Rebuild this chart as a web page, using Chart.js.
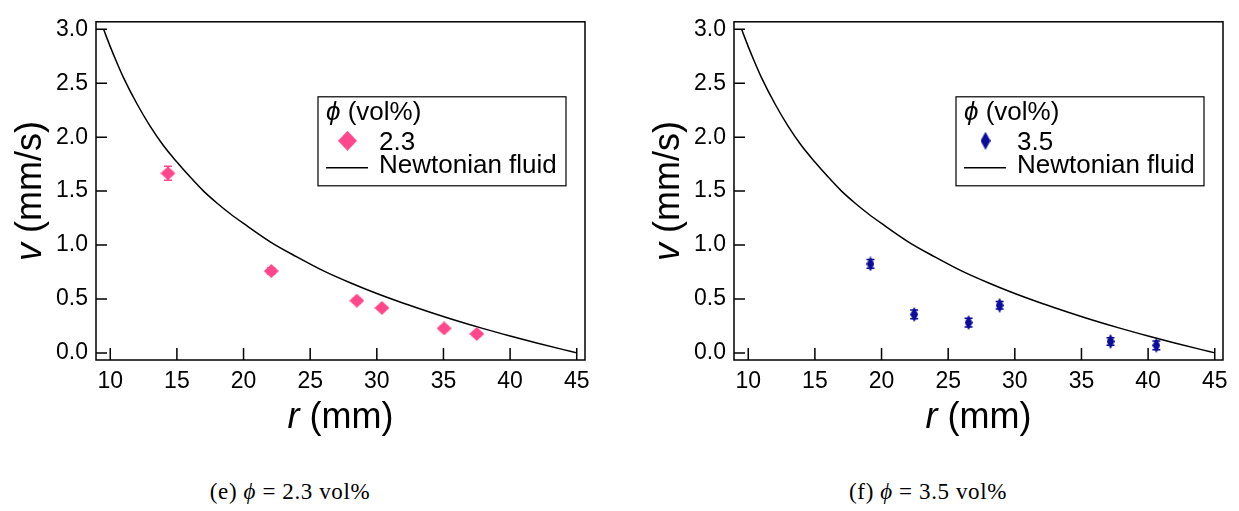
<!DOCTYPE html>
<html>
<head>
<meta charset="utf-8">
<script src="https://cdn.jsdelivr.net/npm/chart.js@4.4.0/dist/chart.umd.min.js"></script>
<style>
  body { margin: 0; background: #fff; width: 1239px; height: 511px; overflow: hidden; position: relative; }
  .panel { position: absolute; top: 0; width: 620px; height: 450px; }
  .cap { position: absolute; top: 479px; transform: translateX(-50%); white-space: nowrap;
         font-family: "Liberation Serif", "DejaVu Serif", serif; font-size: 23px; line-height: 26px;
         letter-spacing: 0.6px; color: #000; }
  .cap i { font-style: italic; }
</style>
</head>
<body>
<div class="panel" style="left:0"><canvas id="chartE" width="620" height="450"></canvas></div>
<div class="panel" style="left:638px"><canvas id="chartF" width="620" height="450"></canvas></div>
<div class="cap" style="left:290px">(e) <i>ϕ</i> = 2.3 vol%</div>
<div class="cap" style="left:928px">(f) <i>ϕ</i> = 3.5 vol%</div>

<script>
// Newtonian fluid reference curve
const newtonR = [9.5, 10, 10.5, 11, 12, 13, 14, 15, 16, 17, 18, 19, 20, 22, 24, 26, 28, 30, 32, 34, 36, 38, 40, 42, 44, 45]
const newtonV = [3.0, 2.84, 2.69, 2.55, 2.31, 2.10, 1.92, 1.77, 1.63, 1.50, 1.39, 1.29, 1.20, 1.03, 0.89, 0.76, 0.65, 0.55, 0.46, 0.377, 0.298, 0.225, 0.157, 0.092, 0.03, 0]

// phi = 2.3 vol%
const rE = [14.33, 22.08, 28.5, 30.38, 35.05, 37.5]
const vE = [1.665, 0.759, 0.484, 0.417, 0.227, 0.176]
const errE = [0.065, 0.03, 0.02, 0.02, 0.02, 0.02]

// phi = 3.5 vol%
const rF = [19.17, 22.45, 26.53, 28.86, 37.18, 40.62]
const vF = [0.825, 0.357, 0.281, 0.441, 0.106, 0.07]
const errF = [0.04, 0.04, 0.04, 0.035, 0.035, 0.04]

const xMin = 8.93, xMax = 45.62, xStep = 5
const yMin = -0.066, yMax = 3.07, yStep = 0.5

const SANS = '"Liberation Sans", Arial, Helvetica, sans-serif'
const PINK = 'rgb(255, 72, 140)'
const NAVY = 'rgb(12, 12, 156)'

function makeDiamond(w, h, color) {
  const c = document.createElement('canvas')
  c.width = w
  c.height = h
  const ctx = c.getContext('2d')
  ctx.fillStyle = color
  ctx.beginPath()
  ctx.moveTo(w / 2, 0)
  ctx.lineTo(w, h / 2)
  ctx.lineTo(w / 2, h)
  ctx.lineTo(0, h / 2)
  ctx.closePath()
  ctx.fill()
  return c
}

const framePlugin = {
  id: 'frame',
  beforeDatasetsDraw(chart) {
    // error bars under the markers
    const ctx = chart.ctx
    const xs = chart.scales.x, ys = chart.scales.y
    chart.data.datasets.forEach(ds => {
      if (!ds.errors) return
      ctx.save()
      ctx.strokeStyle = ds.errColor
      ctx.lineWidth = 1.5
      ds.data.forEach((p, i) => {
        const px = xs.getPixelForValue(p.x)
        const top = ys.getPixelForValue(p.y + ds.errors[i])
        const bot = ys.getPixelForValue(p.y - ds.errors[i])
        ctx.beginPath()
        ctx.moveTo(px, top); ctx.lineTo(px, bot)
        ctx.moveTo(px - 4, top); ctx.lineTo(px + 4, top)
        ctx.moveTo(px - 4, bot); ctx.lineTo(px + 4, bot)
        ctx.stroke()
      })
      ctx.restore()
    })
  },
  afterDraw(chart, args, opts) {
    const ctx = chart.ctx
    const a = chart.chartArea
    const xs = chart.scales.x, ys = chart.scales.y
    ctx.save()
    ctx.strokeStyle = '#000'
    ctx.lineWidth = 1.5
    ctx.strokeRect(a.left, a.top, a.right - a.left, a.bottom - a.top)

    // inward tick marks
    ctx.beginPath()
    xs.ticks.forEach(t => {
      const px = xs.getPixelForValue(t.value)
      ctx.moveTo(px, a.bottom); ctx.lineTo(px, a.bottom - 12)
    })
    ys.ticks.forEach(t => {
      const py = ys.getPixelForValue(t.value)
      ctx.moveTo(a.left, py); ctx.lineTo(a.left + 11, py)
    })
    ctx.stroke()

    // axis titles, italic symbol + upright unit
    ctx.fillStyle = '#000'
    ctx.textBaseline = 'middle'
    ctx.textAlign = 'left'
    const it = 'italic 36px ' + SANS, up = '36px ' + SANS
    ctx.font = it; const wr = ctx.measureText('r').width
    ctx.font = up; const wmm = ctx.measureText(' (mm)').width
    let x0 = (a.left + a.right) / 2 - (wr + wmm) / 2
    ctx.font = it; ctx.fillText('r', x0, 418)
    ctx.font = up; ctx.fillText(' (mm)', x0 + wr, 418)

    ctx.save()
    ctx.translate(31, (a.top + a.bottom) / 2)
    ctx.rotate(-Math.PI / 2)
    ctx.font = it; const wv = ctx.measureText('v').width
    ctx.font = up; const wu = ctx.measureText(' (mm/s)').width
    x0 = -(wv + wu) / 2
    ctx.font = it; ctx.fillText('v', x0, 0)
    ctx.font = up; ctx.fillText(' (mm/s)', x0 + wv, 0)
    ctx.restore()

    // legend box
    const bx = a.right - 267, by = a.top + 75, bw = 248, bh = 89
    ctx.lineWidth = 1.2
    ctx.strokeRect(bx, by, bw, bh)
    ctx.textBaseline = 'alphabetic'
    ctx.font = 'italic 26px ' + SANS
    ctx.fillText('ϕ', bx + 8, by + 23)
    const wp = ctx.measureText('ϕ').width
    ctx.font = '26px ' + SANS
    ctx.fillText(' (vol%)', bx + 8 + wp, by + 23)
    const pts = chart.data.datasets[0]
    const m = opts.legendMarker
    ctx.drawImage(m, bx + 29.5 - m.width / 2, by + 44 - m.height / 2)
    ctx.fillText(pts.label, bx + 61, by + 53)
    ctx.beginPath()
    ctx.moveTo(bx + 8, by + 71); ctx.lineTo(bx + 50, by + 71)
    ctx.lineWidth = 1.5
    ctx.stroke()
    ctx.fillText(chart.data.datasets[1].label, bx + 61, by + 76)
    ctx.restore()
  }
}

function makeChart(id, r, v, err, label, color, marker, legendMarker) {
  return new Chart(document.getElementById(id), {
    type: 'scatter',
    data: {
      datasets: [
        {
          label: label,
          data: r.map((x, i) => ({ x: x, y: v[i] })),
          pointStyle: marker,
          pointRadius: 7,
          pointHoverRadius: 7,
          showLine: false,
          errors: err,
          errColor: color
        },
        {
          label: 'Newtonian fluid',
          data: newtonR.map((x, i) => ({ x: x, y: newtonV[i] })),
          showLine: true,
          pointRadius: 0,
          borderColor: '#000',
          borderWidth: 1.5,
          cubicInterpolationMode: 'monotone'
        }
      ]
    },
    options: {
      responsive: false,
      animation: false,
      events: [],
      layout: { padding: { top: 14, right: 35, left: 0, bottom: 0 } },
      plugins: {
        legend: { display: false },
        tooltip: { enabled: false },
        frame: { legendMarker: legendMarker }
      },
      scales: {
        x: {
          type: 'linear',
          min: xMin,
          max: xMax,
          grid: { display: false, drawTicks: false },
          border: { display: false },
          ticks: {
            stepSize: xStep, includeBounds: false, padding: 8, maxRotation: 0,
            color: '#000', font: { family: SANS, size: 23 }
          },
          afterFit(s) { s.height = 90 }
        },
        y: {
          type: 'linear',
          min: yMin,
          max: yMax,
          grid: { display: false, drawTicks: false },
          border: { display: false },
          ticks: {
            stepSize: yStep, includeBounds: false, padding: 8,
            color: '#000', font: { family: SANS, size: 23 },
            callback: val => val.toFixed(1)
          },
          afterFit(s) { s.width = 96 }
        }
      }
    },
    plugins: [framePlugin]
  })
}

makeChart('chartE', rE, vE, errE, '2.3', PINK,
  makeDiamond(15, 14, PINK), makeDiamond(19, 20, PINK))
makeChart('chartF', rF, vF, errF, '3.5', NAVY,
  makeDiamond(8, 15, NAVY), makeDiamond(10, 18, NAVY))
</script>
</body>
</html>
